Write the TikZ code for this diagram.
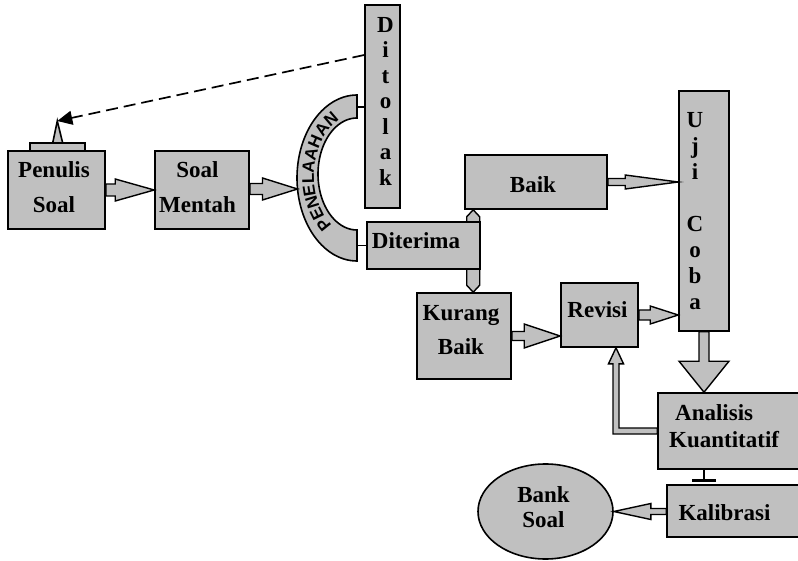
\documentclass[tikz,border=0pt]{standalone}
\usepackage{fontspec}
\setmainfont{Liberation Serif}
\newfontface\arcfont{Liberation Sans Bold}
\usetikzlibrary{arrows.meta,decorations.text,calc,shapes.geometric}
\definecolor{boxgray}{RGB}{192,192,192}
\tikzset{
  box/.style={draw, fill=boxgray, line width=1.6pt, inner sep=0pt, rectangle},
  shp/.style={draw, fill=boxgray, line width=1.6pt},
  barrow/.style={draw, fill=boxgray, line width=1.4pt, line join=miter},
  conn/.style={draw, line width=1.8pt},
  lbl/.style={font=\bfseries\fontsize{23}{26}\selectfont, inner sep=0pt, align=center},
}
% horizontal block arrow: from, to, shaft half, head half, head length (signed)
\newcommand\harrow[5]{%
  \filldraw[barrow] let \p1=(#1), \p2=(#2) in
   ({\x1},{\y2+#3}) -- ({\x2-(#5)},{\y2+#3}) -- ({\x2-(#5)},{\y2+#4}) -- ({\x2},{\y2})
   -- ({\x2-(#5)},{\y2-#4}) -- ({\x2-(#5)},{\y2-#3}) -- ({\x1},{\y2-#3}) -- cycle;}
% vertical (downward) block arrow
\newcommand\varrow[5]{%
  \filldraw[barrow] let \p1=(#1), \p2=(#2) in
   ({\x2-#3},{\y1}) -- ({\x2-#3},{\y2+#5}) -- ({\x2-#4},{\y2+#5}) -- ({\x2},{\y2})
   -- ({\x2+#4},{\y2+#5}) -- ({\x2+#3},{\y2+#5}) -- ({\x2+#3},{\y1}) -- cycle;}
\begin{document}
\begin{tikzpicture}[x=1pt,y=-1pt]
\useasboundingbox (0,0) rectangle (798,561);

% Penulis Soal with tab and antenna
\filldraw[shp] (30,151) rectangle (85,143);
\filldraw[shp] (52.7,143) -- (62.7,143) -- (57.3,121) -- cycle;
\coordinate (ant) at (57.3,121);
\node[box, minimum width=97pt, minimum height=78pt] (pen) at (56.5,190) {};
\node[lbl, font=\bfseries\fontsize{23}{35}\selectfont] (tpen) at (54,186.9) {Penulis\\Soal};

\node[box, minimum width=94pt, minimum height=78pt] (mentah) at (202,190) {};
\node[lbl, font=\bfseries\fontsize{23}{35}\selectfont] (tmentah) at (197.5,186.9) {Soal\\Mentah};

% Penelaahan arc
\filldraw[shp] plot[domain=90:270,samples=60] ({357+60*cos(\x)},{178+83*sin(\x)})
  -- plot[domain=90:270,samples=60] ({357+39*cos(\x)},{174-56*sin(\x)}) -- cycle;
\path[decorate, decoration={text along path, text align=center,
  text={|\arcfont\fontsize{17}{17}\selectfont|PENELAAHAN}}]
  plot[domain=105:268,samples=60] ({357+43*cos(\x)},{176+61*sin(\x)});
\coordinate (arcleft) at (297.5,189);
\coordinate (arctop) at (357,107);
\coordinate (arcbot) at (357,246);

% Ditolak
\node[box, minimum width=35pt, minimum height=203pt] (ditolak) at (382.5,106.5) {};
\node[lbl, font=\bfseries\fontsize{23}{25.5}\selectfont] (tditolak) at (385.5,101) {D\\i\\t\\o\\l\\a\\k};

% Baik, Kurang Baik
\node[box, minimum width=142pt, minimum height=54pt] (baik) at (536,182) {};
\node[lbl] (tbaik) at (533,184.4) {Baik};
\node[box, minimum width=94pt, minimum height=86pt] (kurang) at (464,336) {};
\node[lbl, font=\bfseries\fontsize{23}{34}\selectfont] (tkurang) at (461,329.6) {Kurang\\Baik};

% double pointed bar between Baik and Kurang Baik (behind Diterima)
\filldraw[barrow] let \p1=([xshift=9pt]baik.south west), \p2=(kurang.north) in
  ({\x1},{\y1}) -- ({\x1+6.5pt},{\y1-7pt}) -- ({\x1+6.5pt},{\y2+7pt}) -- ({\x1},{\y2})
  -- ({\x1-6.5pt},{\y2+7pt}) -- ({\x1-6.5pt},{\y1-7pt}) -- cycle;

% Diterima
\node[box, minimum width=113pt, minimum height=47pt] (diterima) at (423.5,245.5) {};
\node[lbl] (tditerima) at (416,240.4) {Diterima};

% Revisi
\node[box, minimum width=77pt, minimum height=64pt] (revisi) at (599.5,315) {};
\node[lbl] (trevisi) at (597.5,309.5) {Revisi};

% Uji Coba
\node[box, minimum width=50pt, minimum height=240pt] (uji) at (704,211) {};
\node[lbl] (tuji) at (695,210.7) {U\\j\\i\\[26pt]C\\o\\b\\a};

% Analisis Kuantitatif
\node[box, minimum width=152pt, minimum height=76pt] (analisis) at (734,431) {};
\node[lbl, align=left, anchor=west, font=\bfseries\fontsize{23}{27}\selectfont] (tanalisis) at (669,425.9) {\hspace*{6pt}Analisis\\Kuantitatif};

% Kalibrasi
\node[box, minimum width=143pt, minimum height=52pt] (kalibrasi) at (738.5,511) {};
\node[lbl] (tkalibrasi) at (724.5,512.4) {Kalibrasi};

% Bank Soal
\node[ellipse, draw, fill=boxgray, line width=1.6pt, minimum width=135pt, minimum height=95pt, inner sep=0pt] (bank) at (545.5,511.5) {};
\node[lbl, font=\bfseries\fontsize{23}{25}\selectfont] (tbank) at (543.5,506.9) {Bank\\Soal};

% block arrows
\harrow{pen.east}{mentah.west}{6pt}{11pt}{39pt}
\harrow{mentah.east}{arcleft}{5.5pt}{11pt}{35pt}
\harrow{baik.east}{uji.west |- baik.east}{3.5pt}{7pt}{53pt}
\harrow{kurang.east}{revisi.west |- kurang.east}{4.5pt}{12pt}{36pt}
\harrow{revisi.east}{uji.west |- revisi.east}{5pt}{9pt}{28pt}
\harrow{kalibrasi.west}{bank.east}{3pt}{8pt}{-37pt}
\varrow{uji.south}{analisis.north -| uji.south}{5pt}{25pt}{31pt}

% L-shaped arrow Analisis -> Revisi
\filldraw[barrow] let \p1=(analisis.west), \p2=([xshift=16.5pt]revisi.south) in
  ({\x1},{\y1+3pt}) -- ({\x2+3pt},{\y1+3pt}) -- ({\x2+3pt},{\y2-16pt}) -- ({\x2+7.5pt},{\y2-16pt})
  -- ({\x2},{\y2}) -- ({\x2-7.5pt},{\y2-16pt}) -- ({\x2-3pt},{\y2-16pt}) -- ({\x2-3pt},{\y1-3pt})
  -- ({\x1},{\y1-3pt}) -- cycle;

% ticks
\draw[conn] (arctop) -- (ditolak.west |- arctop);
\draw[conn] (diterima.west) -- (diterima.west -| arcbot);
\coordinate (akt) at ($(analisis.south west)+(47pt,0pt)$);
\coordinate (kkt) at ($(kalibrasi.north west)+(38pt,2pt)$);
\draw[conn, -{Bar[width=24pt,line width=3pt]}] (akt) -- (kkt);

% dashed arrow Ditolak -> Penulis
\draw[line width=1.7pt, dash pattern=on 12pt off 6pt, -{Triangle[length=15pt,width=14pt]}]
  (ditolak.west |- 0,55) -- (ant);
\end{tikzpicture}
\end{document}
